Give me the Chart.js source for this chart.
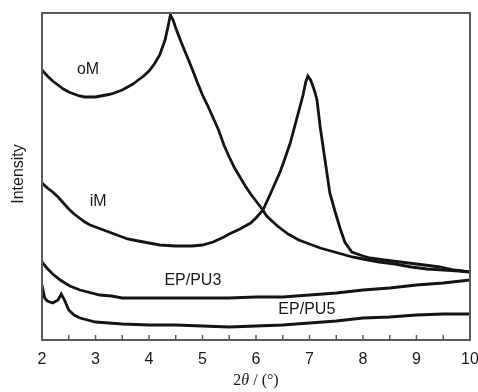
<!DOCTYPE html>
<html>
<head>
<meta charset="utf-8">
<script src="https://cdn.jsdelivr.net/npm/chart.js@4.4.0/dist/chart.umd.min.js"></script>
<style>
  html, body { margin: 0; padding: 0; background: #fff; }
  #wrap { width: 478px; height: 392px; }
</style>
</head>
<body>
<div id="wrap"><canvas id="xrdChart"></canvas></div>
<script>
// valeurs (intensité en unités arbitraires)
const omX = [2.0,2.1,2.2,2.3,2.4,2.5,2.6,2.7,2.8,2.9,3.0,3.1,3.2,3.3,3.4,3.5,3.6,3.7,3.8,3.9,4.0,4.1,4.2,4.3,4.35,4.4,4.45,4.5,4.6,4.7,4.8,4.9,5.0,5.1,5.2,5.3,5.4,5.5,5.6,5.7,5.8,5.9,6.0,6.1,6.2,6.3,6.4,6.5,6.6,6.8,7.0,7.2,7.4,7.6,7.8,8.0,8.3,8.6,8.9,9.2,9.5,9.8,10.0];
const omY = [270,264,259,255,251,248,246,244,243,243,243,244,245,246,248,250,253,256,260,264,269,276,285,300,312,325,320,312,298,285,272,258,245,234,222,210,195,183,172,163,154,146,139,132,124,119,114,110,106,100,96,92,89,86,83,81,78,76,73,71,70,69,68];

const imX = [2.0,2.1,2.2,2.3,2.4,2.5,2.6,2.7,2.8,2.9,3.0,3.2,3.4,3.6,3.8,4.0,4.2,4.5,4.8,5.0,5.2,5.4,5.5,5.7,5.9,6.0,6.13,6.26,6.35,6.45,6.55,6.64,6.77,6.88,6.93,6.97,7.02,7.05,7.1,7.14,7.2,7.29,7.38,7.48,7.57,7.66,7.79,8.0,8.13,8.4,8.7,9.0,9.44,9.7,10.0];
const imY = [157,152,148,143,137,131,126,122,118,115,113,109,105,101,99,97,95,94,94,95,98,103,106,111,117,122,130,145,156,168,183,197,223,245,258,264,260,256,248,240,213,180,147,128,112,98,88,84,82,80,78,76,73,70,68];

const pu3X = [2.0,2.09,2.2,2.34,2.52,2.71,3.08,3.3,3.5,4.0,4.5,5.0,5.5,6.0,6.5,7.0,7.5,8.0,8.5,9.0,9.5,10.0];
const pu3Y = [78,72,66,60,54,50,45,44,42,42,42,42,42,43,43,45,47,50,52,55,57,60];

const pu5X = [2.0,2.05,2.1,2.2,2.3,2.36,2.42,2.5,2.6,2.71,3.0,3.5,4.0,4.5,5.0,5.5,6.0,6.5,7.0,7.5,8.0,8.5,9.0,9.5,10.0];
const pu5Y = [55,42,39,37,40,46,40,30,25,22,18,16,15,15,14,13,14,15,17,19,22,23,25,26,26];

const xTicks = [2, 3, 4, 5, 6, 7, 8, 9, 10];

// étiquettes des courbes : [texte, 2θ, intensité]
const curveLabels = [
    ['oM', 2.86, 270],
    ['iM', 3.05, 138],
    ['EP/PU3', 4.82, 59],
    ['EP/PU5', 6.95, 30],
];

const toPoints = (xs, ys) => xs.map((x, i) => ({ x: x, y: ys[i] }));

function lineSet(label, xs, ys) {
    return {
        label: label,
        data: toPoints(xs, ys),
        borderColor: '#141414',
        borderWidth: 2.8,
        pointRadius: 0,
        tension: 0,
        fill: false,
    };
}

const frameAndText = {
    id: 'frameAndText',
    afterDraw(chart) {
        const { ctx, chartArea, scales } = chart;
        const { left, right, top, bottom } = chartArea;
        ctx.save();

        // cadre
        ctx.strokeStyle = '#5a5a5a';
        ctx.lineWidth = 2;
        ctx.strokeRect(left, top, right - left, bottom - top);

        // graduations vers l'intérieur, tous les 0.5
        ctx.lineWidth = 1.5;
        for (let v = 2.5; v < 10; v += 0.5) {
            const px = scales.x.getPixelForValue(v);
            ctx.beginPath();
            ctx.moveTo(px, bottom);
            ctx.lineTo(px, bottom - 5);
            ctx.stroke();
        }

        // étiquettes des courbes
        ctx.fillStyle = '#1a1a1a';
        ctx.font = '16px "Liberation Sans", Arial, sans-serif';
        ctx.textAlign = 'center';
        ctx.textBaseline = 'middle';
        curveLabels.forEach(([txt, x, y]) => {
            ctx.fillText(txt, scales.x.getPixelForValue(x), scales.y.getPixelForValue(y));
        });

        // titre axe y
        ctx.save();
        ctx.translate(19, 174);
        ctx.rotate(-Math.PI / 2);
        ctx.font = '16px "Liberation Sans", Arial, sans-serif';
        ctx.fillText('Intensity', 0, 0);
        ctx.restore();

        // titre axe x : 2θ / (°)
        const parts = [
            ['2', '16px "Liberation Serif", serif'],
            ['θ', 'italic 16px "Liberation Serif", serif'],
            [' / (°)', '16px "Liberation Serif", serif'],
        ];
        let total = 0;
        parts.forEach(([t, f]) => { ctx.font = f; total += ctx.measureText(t).width; });
        let cx = (left + right) / 2 - total / 2;
        ctx.textAlign = 'left';
        parts.forEach(([t, f]) => {
            ctx.font = f;
            ctx.fillText(t, cx, 381);
            cx += ctx.measureText(t).width;
        });
        ctx.restore();
    }
};

const ctx = document.getElementById('xrdChart').getContext('2d');
new Chart(ctx, {
    type: 'line',
    data: {
        datasets: [
            lineSet('oM', omX, omY),
            lineSet('iM', imX, imY),
            lineSet('EP/PU3', pu3X, pu3Y),
            lineSet('EP/PU5', pu5X, pu5Y),
        ]
    },
    options: {
        responsive: true,
        maintainAspectRatio: false,
        animation: false,
        layout: { padding: { top: 13, right: 8, left: 0, bottom: 0 } },
        plugins: {
            legend: { display: false },
            tooltip: { enabled: false },
        },
        scales: {
            x: {
                type: 'linear',
                min: 2,
                max: 10,
                afterFit: (s) => { s.height = 52; s.paddingLeft = 0; s.paddingRight = 0; },
                afterBuildTicks: (s) => { s.ticks = xTicks.map(v => ({ value: v })); },
                grid: { display: false, drawTicks: false },
                border: { display: false },
                ticks: {
                    padding: 10,
                    color: '#1a1a1a',
                    font: { family: '"Liberation Sans", Arial, sans-serif', size: 16 },
                    maxRotation: 0,
                },
            },
            y: {
                min: 0,
                max: 327,
                afterFit: (s) => { s.width = 42; },
                grid: { display: false, drawTicks: false },
                border: { display: false },
                ticks: { display: false },
            }
        }
    },
    plugins: [frameAndText]
});
</script>
</body>
</html>
